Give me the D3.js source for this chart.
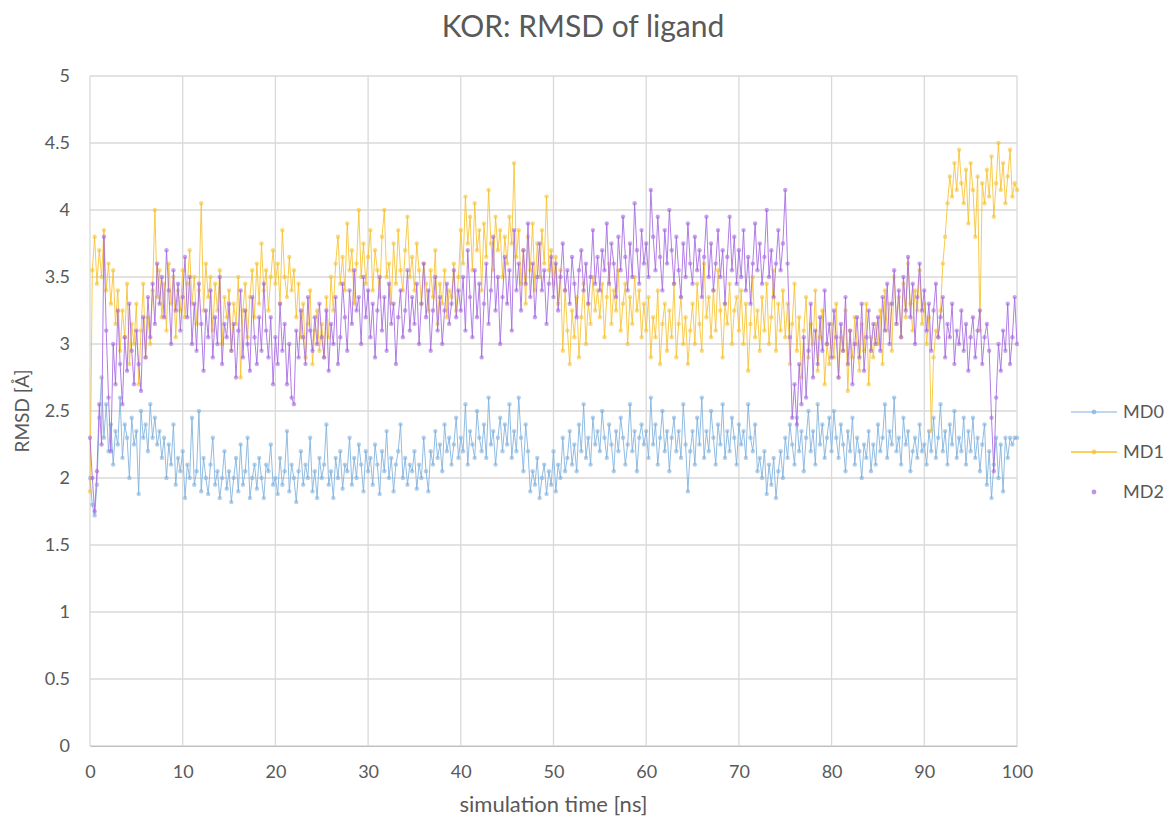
<!DOCTYPE html>
<html>
<head>
<meta charset="utf-8">
<script src="https://cdn.jsdelivr.net/npm/d3@7"></script>
<style>
  body { margin: 0; background: #fff; }
  svg text { font-family: Lato, "Open Sans", sans-serif; fill: #595959; }
</style>
</head>
<body>
<div id="chart"></div>
<script>
// sample spacing of the trajectory (ns)
const timeStep = 0.25;

const seriesNames = ["MD0", "MD1", "MD2"];
const xTicks = [0, 10, 20, 30, 40, 50, 60, 70, 80, 90, 100];
const yTicks = [0, 0.5, 1, 1.5, 2, 2.5, 3, 3.5, 4, 4.5, 5];

const md0 = [
  2.00, 1.80, 1.72, 1.95, 2.45, 2.75, 2.30, 2.55, 2.20, 2.40, 2.10, 2.35, 2.25, 2.60, 2.15, 2.40, 2.30, 2.00, 2.45, 2.25,
  2.35, 1.88, 2.50, 2.30, 2.40, 2.20, 2.55, 2.30, 2.45, 2.25, 2.35, 2.15, 2.30, 2.00, 2.25, 2.10, 2.40, 1.95, 2.15, 2.05,
  2.20, 1.85, 2.10, 2.00, 2.45, 1.95, 2.05, 2.50, 1.90, 2.15, 2.00, 1.88, 2.10, 2.30, 1.95, 2.05, 1.85, 2.00, 2.20, 1.92,
  2.05, 1.82, 2.00, 2.15, 1.90, 2.25, 1.95, 2.05, 2.30, 1.85, 2.00, 2.10, 1.92, 2.15, 2.00, 1.85, 2.10, 2.05, 2.25, 1.95,
  2.00, 1.88, 2.15, 1.95, 2.05, 2.35, 1.90, 2.10, 2.00, 1.82, 2.05, 2.20, 1.95, 2.10, 2.00, 2.30, 1.90, 2.05, 1.85, 2.15,
  2.00, 2.10, 2.40, 1.95, 2.05, 1.85, 2.15, 2.00, 2.20, 1.92, 2.10, 2.05, 2.30, 1.95, 2.15, 2.00, 2.25, 2.10, 1.90, 2.20,
  2.05, 2.15, 1.95, 2.25, 2.10, 1.88, 2.20, 2.05, 2.35, 2.00, 2.15, 1.90, 2.10, 2.20, 2.40, 2.00, 2.15, 1.95, 2.10, 2.05,
  2.20, 1.92, 2.10, 2.00, 2.30, 2.05, 1.90, 2.20, 2.10, 2.35, 2.15, 2.25, 2.05, 2.40, 2.20, 2.30, 2.10, 2.25, 2.45, 2.15,
  2.30, 2.20, 2.55, 2.10, 2.35, 2.25, 2.15, 2.50, 2.30, 2.20, 2.40, 2.15, 2.60, 2.25, 2.35, 2.10, 2.30, 2.45, 2.20, 2.40,
  2.25, 2.55, 2.15, 2.35, 2.20, 2.60, 2.30, 2.05, 2.40, 2.20, 1.90, 2.05, 1.95, 2.15, 1.85, 2.00, 2.10, 1.88, 2.05, 1.95,
  2.20, 1.90, 2.10, 2.00, 2.30, 2.05, 2.15, 2.35, 2.10, 2.25, 2.05, 2.40, 2.20, 2.55, 2.15, 2.30, 2.10, 2.45, 2.25, 2.35,
  2.20, 2.50, 2.30, 2.15, 2.40, 2.25, 2.05, 2.35, 2.20, 2.45, 2.30, 2.10, 2.25, 2.55, 2.20, 2.35, 2.05, 2.30, 2.40, 2.25,
  2.35, 2.15, 2.60, 2.25, 2.40, 2.10, 2.30, 2.50, 2.20, 2.35, 2.05, 2.30, 2.45, 2.20, 2.35, 2.15, 2.55, 2.25, 1.90, 2.20,
  2.35, 2.10, 2.45, 2.25, 2.60, 2.15, 2.35, 2.20, 2.50, 2.30, 2.10, 2.40, 2.25, 2.55, 2.15, 2.35, 2.20, 2.45, 2.30, 2.10,
  2.40, 2.25, 2.35, 2.15, 2.55, 2.30, 2.20, 2.40, 2.05, 2.15, 2.00, 2.20, 1.88, 2.10, 1.95, 2.15, 1.85, 2.05, 2.20, 2.00,
  2.30, 2.15, 2.40, 2.25, 2.10, 2.45, 2.20, 2.35, 2.05, 2.30, 2.50, 2.20, 2.35, 2.10, 2.55, 2.25, 2.40, 2.15, 2.30, 2.45,
  2.20, 2.50, 2.30, 2.15, 2.40, 2.25, 2.05, 2.35, 2.20, 2.45, 2.10, 2.30, 2.20, 2.00, 2.25, 2.15, 2.35, 2.05, 2.25, 2.10,
  2.40, 2.20, 2.30, 2.55, 2.15, 2.35, 2.25, 2.60, 2.20, 2.30, 2.10, 2.45, 2.25, 2.35, 2.05, 2.20, 2.30, 2.15, 2.40, 2.20,
  2.25, 2.10, 2.35, 2.20, 2.45, 2.15, 2.30, 2.55, 2.20, 2.35, 2.10, 2.40, 2.25, 2.50, 2.15, 2.30, 2.20, 2.45, 2.10, 2.35,
  2.20, 2.45, 2.15, 2.30, 2.05, 2.25, 2.40, 1.95, 2.20, 1.85, 2.10, 2.30, 2.00, 2.25, 1.90, 2.30, 2.15, 2.30, 2.25, 2.30,
  2.30
];

const md1 = [
  1.90, 3.55, 3.80, 3.45, 3.70, 3.50, 3.85, 3.40, 3.60, 3.30, 3.55, 3.15, 3.40, 2.95, 3.25, 3.05, 3.45, 2.85, 3.15, 3.00,
  3.30, 2.70, 3.10, 3.45, 2.90, 3.20, 3.00, 3.40, 4.00, 3.35, 3.55, 3.20, 3.45, 3.10, 3.60, 3.30, 3.50, 3.05, 3.40, 3.25,
  3.55, 3.20, 3.45, 3.70, 3.30, 3.50, 3.15, 3.40, 4.05, 3.25, 3.60, 3.35, 3.50, 3.10, 3.45, 3.25, 3.55, 3.00, 3.35, 3.20,
  3.40, 2.95, 3.30, 3.15, 3.50, 2.75, 3.25, 3.45, 3.05, 3.35, 3.55, 3.20, 3.60, 3.30, 3.75, 3.40, 3.55, 3.25, 3.50, 3.70,
  3.45, 3.60, 3.30, 3.85, 3.50, 3.35, 3.65, 3.40, 3.55, 3.20, 3.45, 3.05, 3.30, 2.90, 3.15, 3.40, 2.85, 3.10, 3.25, 2.95,
  3.15, 2.90, 3.35, 3.05, 3.50, 3.25, 3.60, 3.80, 3.45, 3.65, 3.40, 3.90, 3.55, 3.70, 3.30, 3.60, 4.00, 3.50, 3.75, 3.45,
  3.65, 3.85, 3.40, 3.70, 3.55, 3.35, 3.80, 4.00, 3.50, 3.60, 3.30, 3.75, 3.45, 3.85, 3.55, 3.40, 3.70, 3.95, 3.50, 3.65,
  3.40, 3.75, 3.55, 3.30, 3.60, 3.45, 3.25, 3.55, 3.35, 3.70, 3.15, 3.45, 3.30, 3.55, 3.20, 3.40, 3.35, 3.60, 3.25, 3.50,
  3.85, 3.60, 4.10, 3.75, 3.95, 3.55, 4.05, 3.70, 3.85, 3.40, 3.90, 3.65, 4.15, 3.75, 3.55, 3.95, 3.70, 3.85, 3.50, 3.80,
  3.60, 3.95, 3.75, 4.35, 3.65, 3.85, 3.45, 3.70, 3.30, 3.80, 3.55, 3.90, 3.40, 3.75, 3.50, 3.85, 3.60, 4.10, 3.55, 3.70,
  3.45, 3.65, 3.30, 3.55, 2.95, 3.40, 3.10, 2.85, 3.25, 3.05, 3.35, 2.90, 3.20, 3.45, 3.00, 3.30, 3.15, 3.50, 3.25, 3.40,
  3.20, 3.45, 3.05, 3.35, 3.60, 3.15, 3.40, 3.25, 3.55, 3.10, 3.30, 3.45, 3.00, 3.35, 3.15, 3.50, 3.25, 3.40, 3.05, 3.30,
  3.10, 3.35, 2.90, 3.20, 3.05, 3.40, 2.85, 3.15, 3.30, 2.95, 3.25, 3.05, 3.45, 2.90, 3.15, 3.35, 3.00, 3.20, 2.85, 3.10,
  3.30, 3.00, 3.45, 3.15, 2.95, 3.60, 3.20, 3.35, 3.05, 3.40, 3.10, 3.55, 3.25, 2.90, 3.30, 3.15, 3.45, 3.00, 3.25, 3.35,
  3.10, 3.40, 3.00, 3.30, 2.80, 3.15, 3.50, 3.05, 3.25, 2.95, 3.35, 3.10, 3.45, 3.00, 3.20, 3.55, 2.95, 3.30, 3.10, 3.40,
  3.05, 3.30, 2.85, 3.15, 3.45, 2.95, 3.20, 2.75, 3.10, 3.35, 2.90, 3.15, 3.00, 3.40, 2.80, 3.05, 3.25, 2.70, 3.00, 2.85,
  3.15, 2.90, 3.30, 2.75, 3.05, 2.95, 3.25, 2.65, 3.10, 2.90, 3.20, 3.00, 2.80, 3.15, 2.95, 3.30, 2.70, 3.05, 2.90, 3.15,
  3.00, 3.25, 2.85, 3.40, 3.10, 3.30, 2.95, 3.50, 3.15, 3.35, 3.05, 3.45, 3.20, 3.60, 3.30, 3.10, 3.40, 3.25, 3.55, 3.15,
  3.30, 3.00, 3.20, 2.35, 2.90, 3.10, 3.05, 3.25, 3.60, 3.80, 4.05, 4.25, 4.10, 4.35, 4.15, 4.45, 4.20, 4.05, 4.30, 3.90,
  4.35, 4.15, 3.80, 4.25, 3.10, 4.20, 4.05, 4.30, 4.10, 4.40, 3.95, 4.20, 4.50, 4.15, 4.35, 4.05, 4.25, 4.45, 4.10, 4.20,
  4.15
];

const md2 = [
  2.30, 2.00, 1.75, 2.05, 2.55, 2.25, 3.80, 3.10, 2.60, 2.20, 3.00, 2.70, 3.25, 2.85, 2.55, 3.05, 2.80, 3.30, 2.95, 2.70,
  3.10, 2.85, 2.65, 3.20, 2.90, 3.35, 3.05, 3.45, 3.15, 3.60, 3.30, 3.50, 3.20, 3.70, 3.40, 3.00, 3.55, 3.25, 3.45, 3.10,
  3.35, 3.65, 3.20, 3.50, 3.00, 3.30, 2.95, 3.45, 3.15, 2.80, 3.25, 3.05, 3.40, 2.90, 3.20, 3.00, 3.50, 2.85, 3.15, 3.05,
  3.30, 2.95, 3.15, 2.75, 3.10, 3.40, 2.90, 3.25, 3.00, 2.80, 3.35, 3.05, 2.85, 3.20, 2.95, 3.45, 3.10, 2.90, 3.20, 2.70,
  3.05, 2.85, 3.30, 2.95, 3.15, 2.70, 3.00, 2.60, 2.55, 3.10, 2.90, 3.25, 3.05, 2.85, 3.35, 3.10, 2.95, 3.20, 3.00, 3.30,
  3.05, 2.90, 3.25, 2.80, 3.15, 3.00, 3.35, 2.85, 3.05, 3.45, 3.20, 2.95, 3.40, 3.15, 3.55, 3.25, 3.35, 3.00, 3.50, 3.20,
  3.40, 3.05, 3.30, 2.90, 3.25, 3.50, 3.10, 3.35, 2.95, 3.45, 3.15, 3.30, 2.85, 3.20, 3.40, 3.05, 3.25, 3.55, 3.10, 3.35,
  3.15, 3.45, 3.00, 3.30, 3.60, 3.20, 3.40, 2.95, 3.25, 3.50, 3.10, 3.35, 3.00, 3.25, 3.45, 3.15, 3.30, 3.55, 3.20, 3.40,
  3.25, 3.50, 3.10, 3.70, 3.35, 3.05, 3.55, 3.20, 3.45, 2.90, 3.30, 3.60, 3.15, 3.40, 3.80, 3.25, 3.50, 3.00, 3.35, 3.65,
  3.30, 3.55, 3.10, 3.85, 3.40, 3.60, 3.25, 3.70, 3.45, 3.90, 3.35, 3.60, 3.20, 3.50, 3.75, 3.40, 3.55, 3.15, 3.45, 3.65,
  3.35, 3.60, 3.25, 3.50, 3.75, 3.40, 3.55, 3.30, 3.65, 3.45, 3.20, 3.55, 3.70, 3.40, 3.60, 3.30, 3.50, 3.85, 3.45, 3.65,
  3.40, 3.70, 3.55, 3.90, 3.45, 3.75, 3.60, 3.35, 3.80, 3.55, 3.95, 3.65, 3.40, 3.75, 3.50, 4.05, 3.70, 3.45, 3.85, 3.60,
  3.75, 3.50, 4.15, 3.80, 3.55, 3.95, 3.65, 3.40, 3.85, 3.60, 4.00, 3.70, 3.45, 3.80, 3.55, 3.35, 3.75, 3.50, 3.90, 3.60,
  3.45, 3.80, 3.55, 3.70, 3.35, 3.65, 3.95, 3.50, 3.75, 3.40, 3.60, 3.85, 3.50, 3.70, 3.30, 3.65, 3.95, 3.55, 3.80, 3.45,
  3.70, 3.50, 3.85, 3.40, 3.65, 3.30, 3.60, 3.90, 3.55, 3.75, 3.45, 3.65, 4.00, 3.50, 3.70, 3.35, 3.60, 3.85, 3.55, 3.75,
  4.15, 3.60, 3.05, 2.45, 2.70, 2.40, 2.85, 2.55, 3.05, 2.60, 2.95, 3.30, 2.75, 3.10, 2.85, 3.20, 2.95, 3.40, 3.00, 3.15,
  2.90, 3.25, 3.05, 2.75, 3.15, 2.95, 3.35, 2.85, 3.10, 2.70, 3.00, 3.20, 2.90, 3.30, 2.80, 3.05, 3.25, 2.95, 3.15, 3.00,
  3.20, 2.95, 3.35, 3.10, 3.45, 3.00, 3.30, 3.55, 3.15, 3.40, 3.05, 3.50, 3.25, 3.65, 3.20, 3.45, 3.00, 3.35, 3.60, 3.25,
  3.40, 3.10, 3.30, 2.95, 3.25, 3.45, 3.05, 3.20, 3.35, 2.90, 3.15, 3.05, 3.30, 2.85, 3.10, 3.00, 3.25, 2.95, 3.15, 2.80,
  3.05, 3.20, 2.90, 3.10, 3.25, 2.85, 3.05, 3.15, 2.95, 2.45, 2.05, 2.60, 3.00, 2.80, 3.10, 2.95, 3.30, 2.85, 3.05, 3.35,
  3.00
];

const colors = { MD0: "#7eb0dd", MD1: "#f7c12e", MD2: "#a467e0" };

const width = 1172, height = 824;
const margin = { top: 76, right: 155, bottom: 78, left: 90 };

const svg = d3.select("#chart")
  .append("svg")
  .attr("width", width)
  .attr("height", height);

const x = d3.scaleLinear().domain([0, 100]).range([margin.left, width - margin.right]);
const y = d3.scaleLinear().domain([0, 5]).range([height - margin.bottom, margin.top]);

// gridlines
svg.append("g")
  .selectAll("line")
  .data(yTicks)
  .join("line")
  .attr("x1", x(0)).attr("x2", x(100))
  .attr("y1", d => y(d)).attr("y2", d => y(d))
  .attr("stroke", "#d9d9d9").attr("stroke-width", 1.3);

svg.append("g")
  .selectAll("line")
  .data(xTicks)
  .join("line")
  .attr("y1", y(0)).attr("y2", y(5))
  .attr("x1", d => x(d)).attr("x2", d => x(d))
  .attr("stroke", "#d9d9d9").attr("stroke-width", 1.3);

// axes (labels only, lines come from the grid)
const xAxis = svg.append("g")
  .attr("transform", `translate(0,${y(0)})`)
  .call(d3.axisBottom(x).tickValues(xTicks).tickSize(0).tickPadding(19));
xAxis.select(".domain").attr("stroke", "#bfbfbf");
xAxis.selectAll("text").style("font-size", "18px");

const yAxis = svg.append("g")
  .attr("transform", `translate(${x(0)},0)`)
  .call(d3.axisLeft(y).tickValues(yTicks).tickSize(0).tickPadding(20).tickFormat(d3.format("")));
yAxis.select(".domain").remove();
yAxis.selectAll("text").style("font-size", "18px");

// series
const series = seriesNames.map((name, i) => ({
  name: name,
  values: [md0, md1, md2][i].map((v, j) => ({ t: j * timeStep, v: v }))
}));

const line = d3.line().x(d => x(d.t)).y(d => y(d.v));

series.forEach(s => {
  const g = svg.append("g");
  g.append("path")
    .datum(s.values)
    .attr("d", line)
    .attr("fill", "none")
    .attr("stroke", colors[s.name])
    .attr("stroke-width", 1)
    .attr("stroke-opacity", 0.85);
  g.selectAll("circle")
    .data(s.values)
    .join("circle")
    .attr("cx", d => x(d.t))
    .attr("cy", d => y(d.v))
    .attr("r", 2.2)
    .attr("fill", colors[s.name])
    .attr("fill-opacity", 0.6);
});

// title and axis titles
svg.append("text")
  .attr("x", 583).attr("y", 37)
  .attr("text-anchor", "middle")
  .style("font-size", "30px")
  .text("KOR: RMSD of ligand");

svg.append("text")
  .attr("x", (x(0) + x(100)) / 2).attr("y", 812)
  .attr("text-anchor", "middle")
  .style("font-size", "22px")
  .text("simulation time [ns]");

svg.append("text")
  .attr("transform", `translate(29,${y(2.5)}) rotate(-90)`)
  .attr("text-anchor", "middle")
  .style("font-size", "19px")
  .text("RMSD [Å]");

// legend
const legend = svg.append("g")
  .selectAll("g")
  .data(seriesNames)
  .join("g")
  .attr("transform", (d, i) => `translate(1071,${412 + i * 40})`);

legend.filter(d => d !== "MD2").append("line")
  .attr("x1", 0).attr("x2", 46)
  .attr("stroke", d => colors[d])
  .attr("stroke-width", d => d === "MD1" ? 1.6 : 1);

legend.append("circle")
  .attr("cx", 23).attr("r", 2.4)
  .attr("fill", d => colors[d])
  .attr("fill-opacity", 0.7);

legend.append("text")
  .attr("x", 52).attr("dy", "0.35em")
  .style("font-size", "18px")
  .text(d => d);
</script>
</body>
</html>
